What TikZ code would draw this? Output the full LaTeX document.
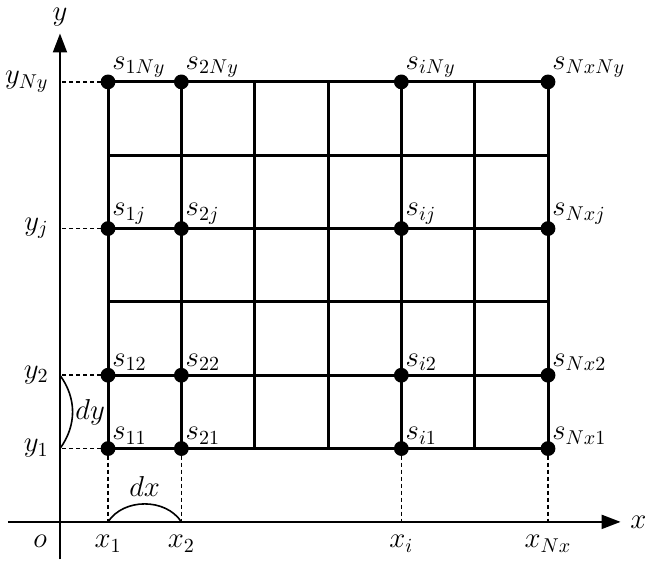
\documentclass[tikz,border=0pt]{standalone}
\usepackage{amsmath}
\usetikzlibrary{arrows.meta}

\begin{document}
\begin{tikzpicture}[x=1.289cm,y=1.289cm,
    every node/.style={font=\Large},
    gridline/.style={line width=1.5pt},
    guide/.style={line width=0.8pt, dash pattern=on 2pt off 1.5pt},
    axis/.style={line width=1pt, -{Triangle[length=9.5pt,width=7pt]}},
    dot/.style={circle, fill, inner sep=0pt, minimum size=7.4pt},
    span/.style={line width=0.8pt}]

% Frame
\useasboundingbox (-1.473,-1.717) rectangle (7.35,6.117);

% Axes
\coordinate (O) at (-0.655,-1);
\coordinate (Xs) at (-1.364,-1);
\coordinate (Xe) at (6.99,-1);
\coordinate (Ys) at (-0.655,-1.51);
\coordinate (Ye) at (-0.655,5.66);
\draw[axis] (Xs) -- (Xe) node[right=1pt] (xlab) {$x$};
\draw[axis] (Ys) -- (Ye) node[above] (ylab) {$y$};
\node[below left=3pt] (olab) at (O) {$o$};

% Grid points
\foreach \i in {0,1,4,6}
  \foreach \j in {0,1,3,5}
    \coordinate (p\i\j) at (\i,\j);

% Dashed guides to the axes
\foreach \i/\a in {0/1,1/2,4/i,6/Nx}
  \draw[guide] (p\i0) -- (p\i0 |- O) coordinate (a\i)
    node[below=3pt] (x\i) {$x_{\a}$};
\foreach \j/\b in {0/1,1/2,3/j,5/Ny}
  \draw[guide] (p0\j) -- (p0\j -| O) coordinate (b\j)
    node[left=2pt] (y\j) {$y_{\b}$};

% Mesh
\foreach \i in {0,...,6}
  \draw[gridline] (\i,0) -- (\i,5);
\foreach \j in {0,...,5}
  \draw[gridline] (0,\j) -- (6,\j);

% Nodes s_ij
\foreach \i/\a in {0/1,1/2,4/i,6/Nx}
  \foreach \j/\b in {0/1,1/2,3/j,5/Ny} {
    \node[dot] (d\i\j) at (p\i\j) {};
    \node[above right, inner sep=2pt] (s\i\j) at (p\i\j) {$s_{\a\b}$};
  }

% Steps dx and dy
\draw[span] (a0) to[bend left=57] node[above] (dx) {$dx$} (a1);
\draw[span] (b0) to[bend right=36] node[right, inner sep=1pt] (dy) {$dy$} (b1);

\end{tikzpicture}
\end{document}
